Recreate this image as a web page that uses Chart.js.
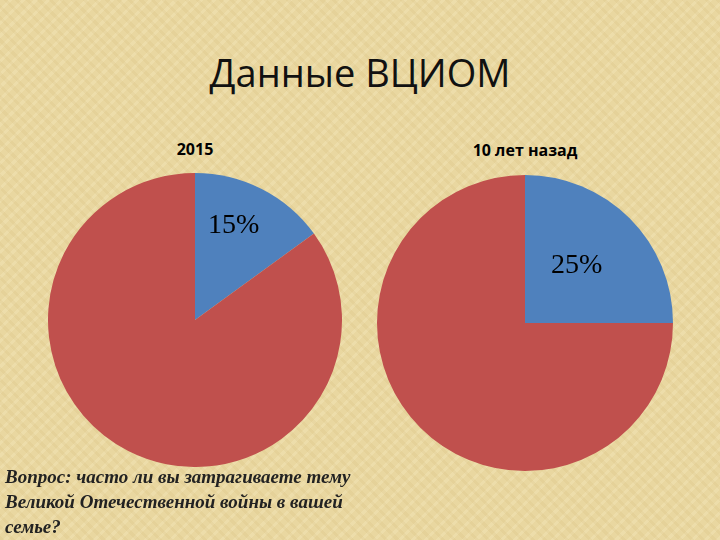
<!DOCTYPE html>
<html><head><meta charset="utf-8">
<script src="https://cdn.jsdelivr.net/npm/chart.js@4"></script>
<style>
body{margin:0;width:720px;height:540px;overflow:hidden;position:relative;
background:#e9d7a0;background-image:repeating-linear-gradient(45deg,rgba(200,170,100,0.12) 0 3px,transparent 3px 8px),repeating-linear-gradient(-45deg,rgba(255,245,210,0.2) 0 3px,transparent 3px 9px);}
.t{position:absolute;white-space:nowrap;z-index:2}
canvas{position:absolute;z-index:1}
</style></head><body>
<div class="t" style="left:0;width:720px;text-align:center;top:46px;font:38px 'Open Sans',sans-serif;color:#111">Данные ВЦИОМ</div>
<div class="t" style="left:145px;width:100px;text-align:center;top:138px;font:bold 16px 'Open Sans',sans-serif">2015</div>
<div class="t" style="left:445px;width:160px;text-align:center;top:139px;font:bold 16px 'Open Sans',sans-serif">10 лет назад</div>
<div class="t" style="left:208px;top:208px;font:28px 'Liberation Serif',serif">15%</div>
<div class="t" style="left:551px;top:248px;font:28px 'Liberation Serif',serif">25%</div>
<div class="t" style="left:5px;top:464px;font:italic bold 19px/25px 'Liberation Serif',serif;color:#222">Вопрос: часто ли вы затрагиваете тему<br>Великой Отечественной войны в вашей<br>семье?</div>
<canvas id="c1" width="294" height="294" style="left:48px;top:173px"></canvas>
<canvas id="c2" width="296" height="296" style="left:377px;top:175px"></canvas>
<script>
const categories=['Да','Нет'];
const values2015=[15,85];
const valuesPast=[25,75];
const colors=['#4f81bd','#c0504d'];
function mk(id,data){
 new Chart(document.getElementById(id),{type:'pie',
  data:{labels:categories,datasets:[{data:data,backgroundColor:colors,borderWidth:0}]},
  options:{responsive:false,animation:false,layout:{padding:0},
   plugins:{legend:{display:false},tooltip:{enabled:false}}}});
}
mk('c1',values2015);mk('c2',valuesPast);
</script></body></html>
